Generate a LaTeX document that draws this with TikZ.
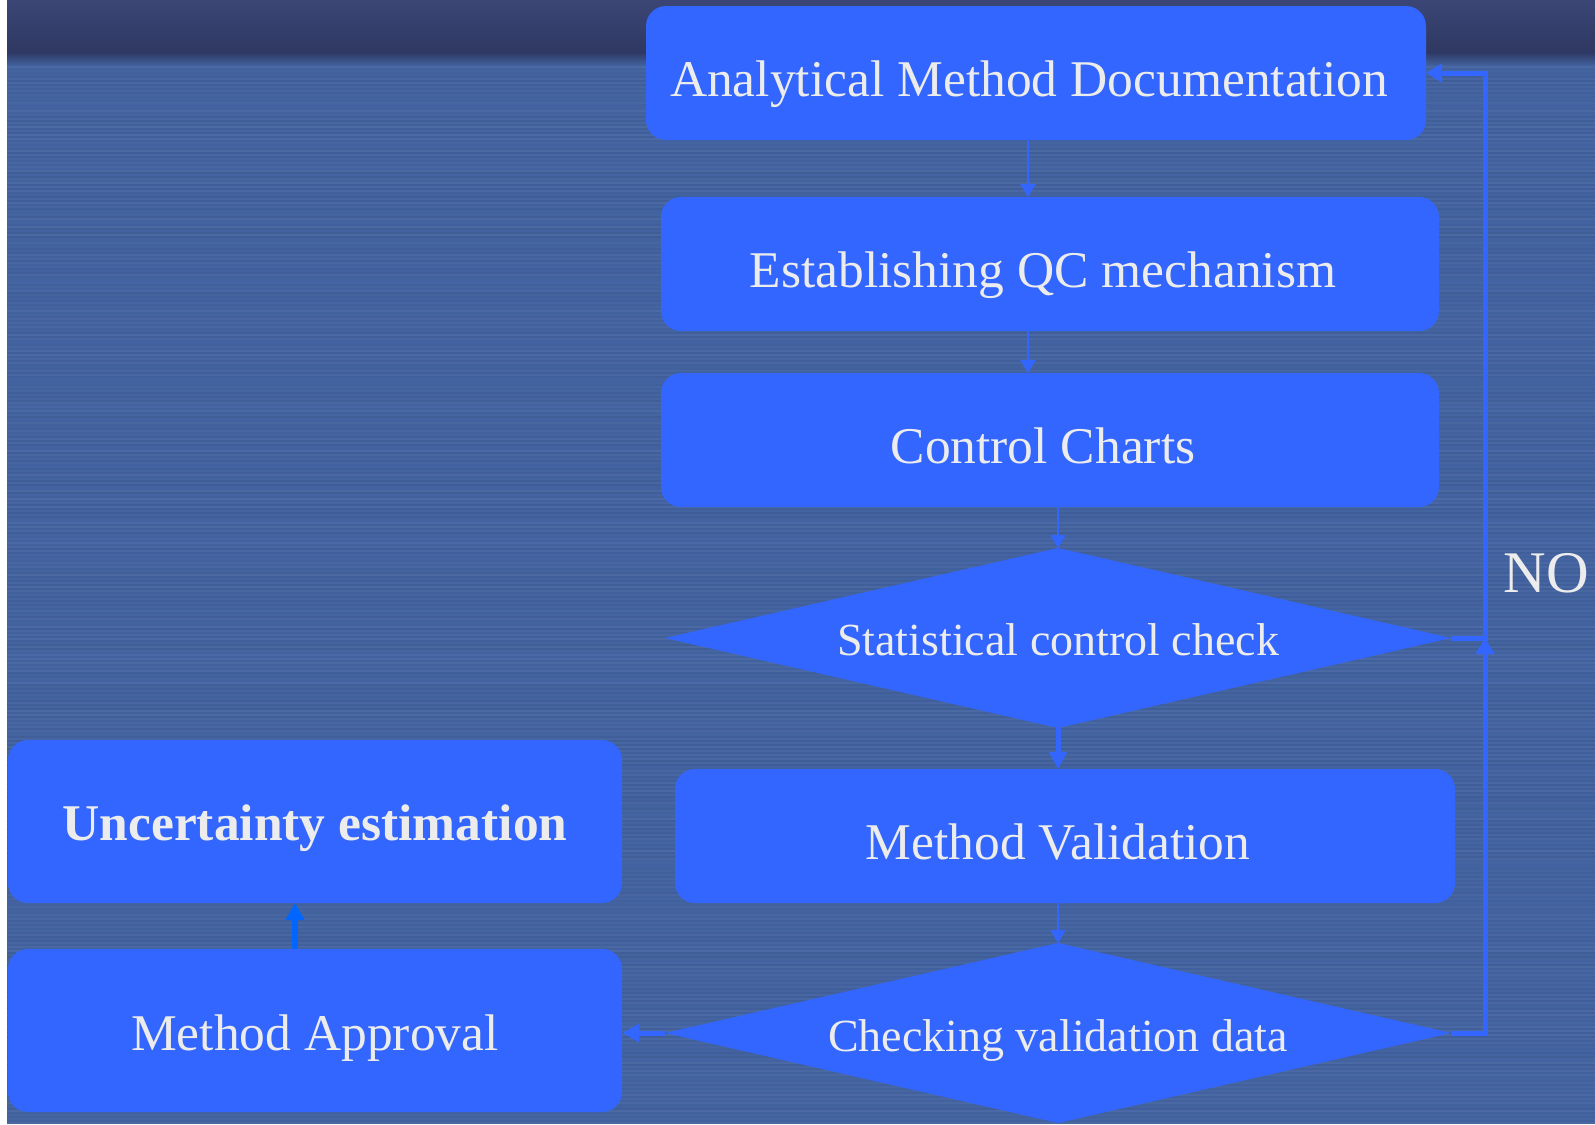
\documentclass[tikz,border=0pt]{standalone}
\usepackage{fontspec}
\setmainfont{Liberation Serif}
\usetikzlibrary{arrows.meta,shapes.geometric}
\definecolor{boxblue}{RGB}{51,102,255}
\definecolor{arrblue}{RGB}{0,102,255}
\definecolor{bgblue}{RGB}{67,99,160}
\definecolor{bgdark}{RGB}{46,56,98}
\definecolor{bgtop}{RGB}{60,70,118}
\definecolor{txtc}{RGB}{236,236,236}
\begin{document}
\begin{tikzpicture}[x=0.5pt,y=-0.5pt,
  box/.style={rectangle, rounded corners=10pt, fill=boxblue, inner sep=0pt, outer sep=0pt,
    text=txtc, font=\fontsize{25.75pt}{30pt}\selectfont, text height=23.5pt, text depth=0pt},
  lshift/.style={execute at begin node={\hspace*{-7pt}}},
  dia/.style={diamond, aspect=4.37, fill=boxblue, inner sep=0pt, outer sep=0pt,
    minimum width=393pt, minimum height=90pt, text=txtc,
    font=\fontsize{23pt}{28pt}\selectfont, text depth=0pt},
  thinarrow/.style={draw=boxblue, line width=1pt, -{Triangle[length=6.5pt,width=7.5pt]}},
  thickarrow/.style={draw=boxblue, line width=2.5pt, -{Triangle[length=8.5pt,width=8.5pt]}},
  looparrow/.style={draw=boxblue, line width=2.5pt, -{Triangle[length=8pt,width=9pt]}},
  uparrow/.style={draw=arrblue, line width=3pt, -{Triangle[length=8.5pt,width=9pt]}},
]
\useasboundingbox (0,0) rectangle (1595,1124);
% background
\fill[white] (0,0) rectangle (1595,1124);
\fill[bgblue] (7,0) rectangle (1595,1124);
\shade[top color=bgtop, bottom color=bgdark] (7,0) rectangle (1595,52);
\shade[top color=bgdark, bottom color=bgblue] (7,52) rectangle (1595,66);
\pgfmathsetseed{7}
\foreach \k in {0,...,264}{
  \pgfmathsetmacro{\o}{0.05*rnd}
  \pgfmathsetmacro{\p}{0.05*rnd}
  \fill[white, opacity=\o] (7,66+4*\k) rectangle (1595,67.5+4*\k);
  \fill[black, opacity=\p] (7,68+4*\k) rectangle (1595,69.5+4*\k);
}
% nodes
\node[box, lshift, minimum width=390pt, minimum height=67pt] (b1) at (1036,73) {Analytical Method Documentation};
\node[box, lshift, minimum width=389pt, minimum height=67pt] (b2) at (1050,264) {Establishing QC mechanism};
\node[box, lshift, minimum width=389pt, minimum height=67pt] (b3) at (1050,440) {Control Charts};
\node[dia, text height=17pt] (d1) at (1058,638) {Statistical control check};
\node[box, lshift, minimum width=390pt, minimum height=67pt] (b4) at (1065,836) {Method Validation};
\node[dia, text height=18pt] (d2) at (1058,1033) {Checking validation data};
\node[box, minimum width=307pt, minimum height=81.5pt, text height=18.5pt, font=\fontsize{25.75pt}{30pt}\selectfont\bfseries] (ue) at (315,821.5) {Uncertainty estimation};
\node[box, minimum width=307pt, minimum height=81.5pt, text height=19.5pt] (ma) at (315,1030.5) {Method Approval};
\node[anchor=base, text=txtc, font=\fontsize{29.5pt}{34pt}\selectfont, inner sep=0pt] (no) at (1546,592) {NO};
\coordinate (r) at (1485,0);
% connectors
\draw[thinarrow] ([xshift=-4pt]b1.south) -- ([xshift=-4pt]b1.south |- b2.north);
\draw[thinarrow] ([xshift=-11pt]b2.south) -- ([xshift=-11pt]b2.south |- b3.north);
\draw[thinarrow] (d1.north |- b3.south) -- (d1.north);
\draw[thickarrow] (d1.south) -- (d1.south |- b4.north);
\draw[thinarrow] (d2.north |- b4.south) -- (d2.north);
\draw[thickarrow] (d2.west) -- (d2.west -| ma.east);
\draw[uparrow] ([xshift=-10pt]ma.north) -- ([xshift=-10pt]ue.south);
\draw[looparrow] (d1.east) -- (d1.east -| r) -- (b1.east -| r) -- (b1.east);
\draw[looparrow] (d2.east) -- (d2.east -| r) -- (d1.east -| r);
\end{tikzpicture}
\end{document}
